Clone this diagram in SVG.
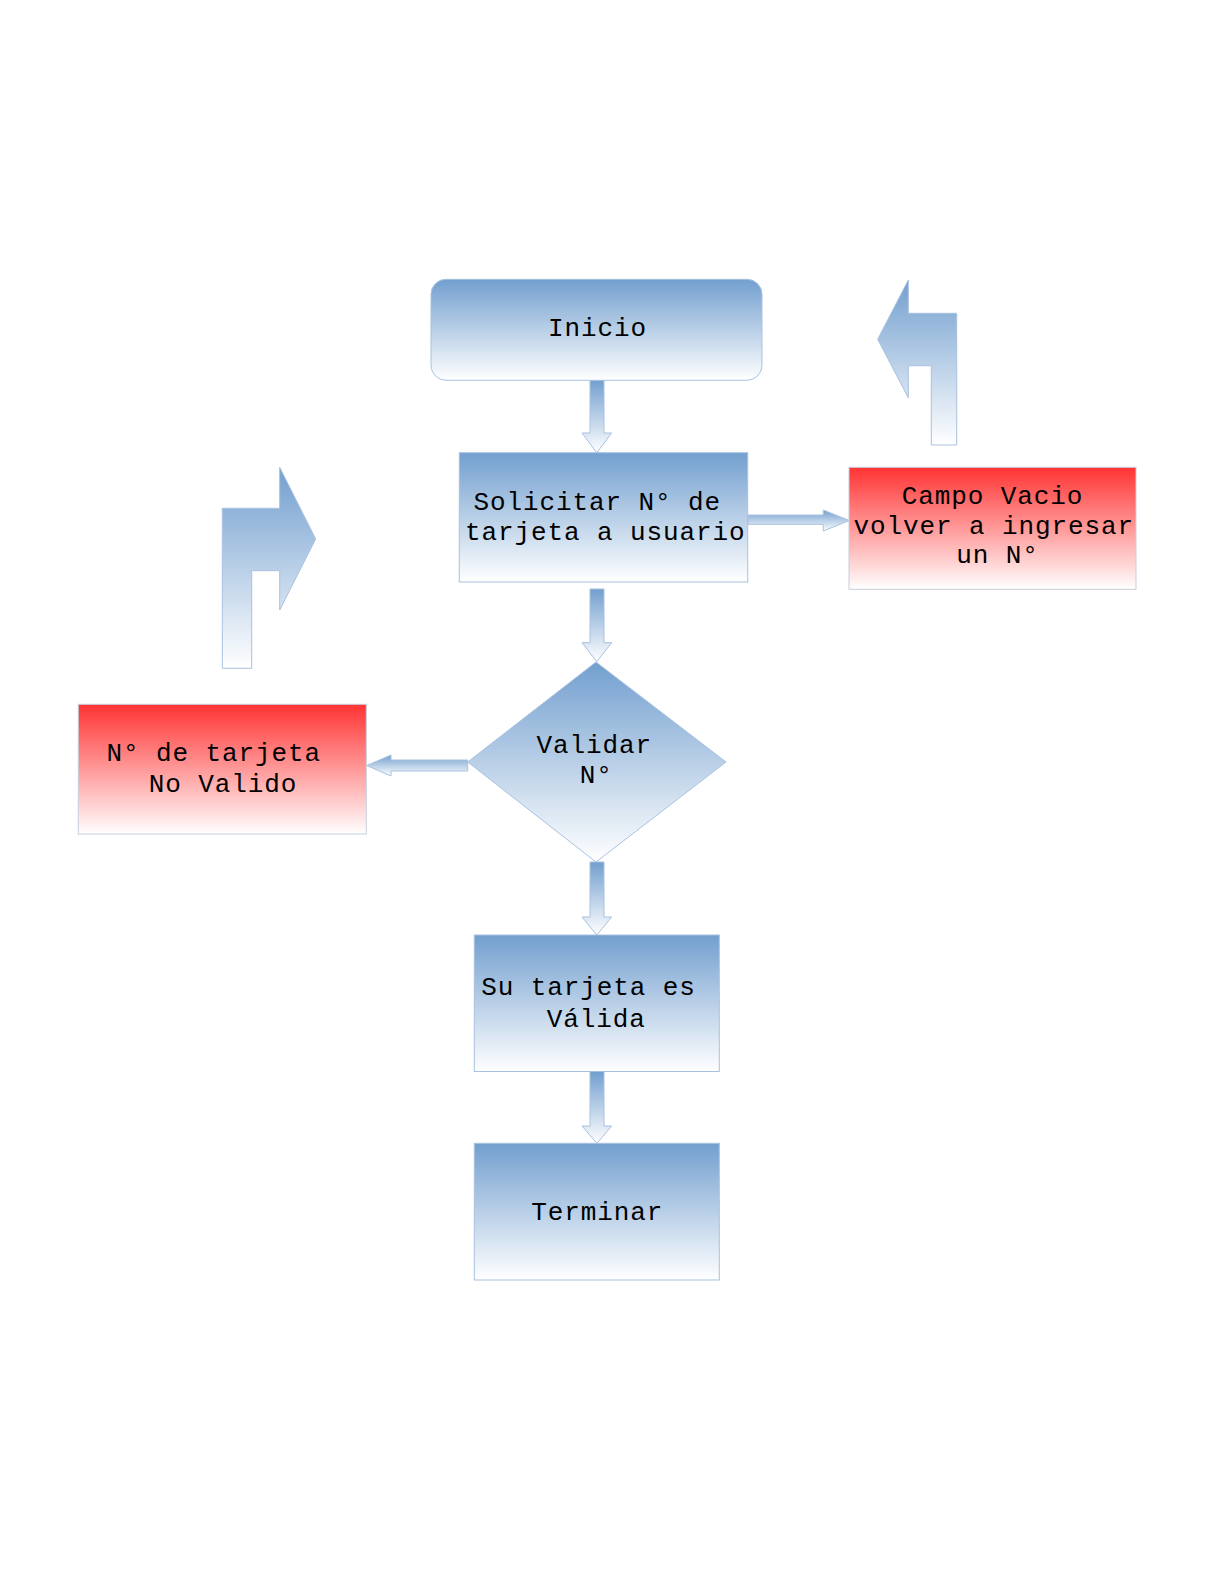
<svg xmlns="http://www.w3.org/2000/svg" width="1224" height="1584" viewBox="0 0 1224 1584">
<defs>
<linearGradient id="gBlue" x1="0" y1="0" x2="0" y2="1">
<stop offset="0" stop-color="#729fcf"/>
<stop offset="1" stop-color="#ffffff"/>
</linearGradient>
<linearGradient id="gRed" x1="0" y1="0" x2="0" y2="1">
<stop offset="0" stop-color="#ff3333"/>
<stop offset="1" stop-color="#ffffff"/>
</linearGradient>
</defs>
<style>
.b{fill:url(#gBlue);stroke:#a9c1e0;stroke-width:1}
.r{fill:url(#gRed);stroke:#c5cfdd;stroke-width:1}
.t{font-family:"Liberation Mono","DejaVu Sans Mono",monospace;font-size:26px;letter-spacing:0.9px;fill:#000;text-anchor:middle}
</style>
<rect width="1224" height="1584" fill="#ffffff"/>

<g id="connectors">
<polygon class="b" points="590,380 604,380 604,433 611.7,433 596.8,452.7 582,433 590,433"/>
<polygon class="b" points="590,589 604,589 604,642.7 611.7,642.7 596.8,661.7 582,642.7 590,642.7"/>
<polygon class="b" points="590,862 604,862 604,917 611.7,917 596.8,935 582,917 590,917"/>
<polygon class="b" points="590,1071.5 604,1071.5 604,1126 611.7,1126 596.8,1143.3 582,1126 590,1126"/>
<polygon class="b" points="748,515 823.3,515 823.3,510 849.3,520.5 823.3,531 823.3,524.3 748,524.3"/>
<polygon class="b" points="467.7,760 391,760 391,755 366.7,765.5 391,776 391,771 467.7,771"/>
<polygon id="bent-right" class="b" points="222.3,668.3 222.3,508.3 279.7,508.3 279.7,467.3 315.7,539 279.7,610 279.7,570.7 251.7,570.7 251.7,668.3"/>
<polygon id="bent-left" class="b" points="877.7,339.3 908.3,280 908.3,313.3 956.7,313.3 956.7,445 931.3,445 931.3,365.7 908.3,365.7 908.3,397.7"/>
</g>

<g id="inicio">
<rect class="b" x="431" y="279.3" width="331" height="101" rx="15" ry="15"/>
<text class="t" x="597.5" y="336">Inicio</text>
</g>

<g id="solicitar">
<rect class="b" x="459.3" y="452.7" width="288.4" height="129.3"/>
<text class="t" x="597.2" y="510">Solicitar N° de</text>
<text class="t" x="605.2" y="539.5">tarjeta a usuario</text>
</g>

<g id="campo-vacio">
<rect class="r" x="849" y="467.3" width="287" height="122"/>
<text class="t" x="992.5" y="503.5">Campo Vacio</text>
<text class="t" x="993.8" y="533.5">volver a ingresar</text>
<text class="t" x="997.5" y="563">un N°</text>
</g>

<g id="validar">
<polygon class="b" points="596,662 726,762 596,862 467.7,762"/>
<text class="t" x="594.3" y="753.3">Validar</text>
<text class="t" x="596.3" y="783.3">N°</text>
</g>

<g id="no-valido">
<rect class="r" x="78.3" y="704.3" width="288" height="129.7"/>
<text class="t" x="213.8" y="761">N° de tarjeta</text>
<text class="t" x="223" y="791.7">No Valido</text>
</g>

<g id="valida">
<rect class="b" x="474.3" y="935" width="245" height="136.5"/>
<text class="t" x="588.5" y="995">Su tarjeta es</text>
<text class="t" x="596.3" y="1026.7">Válida</text>
</g>

<g id="terminar">
<rect class="b" x="474.3" y="1143.3" width="245" height="136.7"/>
<text class="t" x="597.3" y="1220">Terminar</text>
</g>
</svg>
